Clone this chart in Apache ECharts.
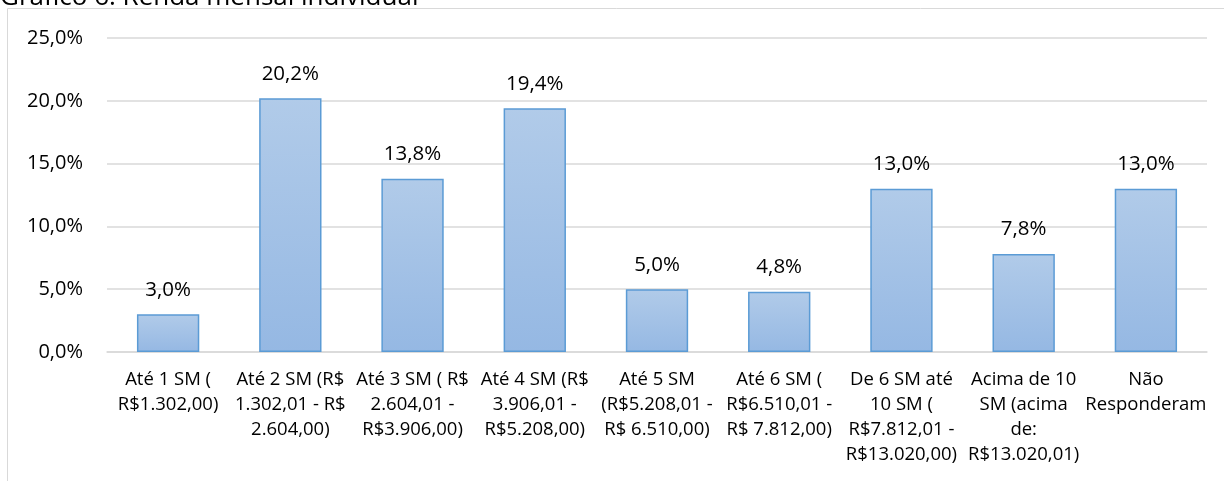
<!DOCTYPE html>
<html>
<head>
<meta charset="utf-8">
<script src="https://cdn.jsdelivr.net/npm/echarts@6/dist/echarts.min.js"></script>
<style>
html,body{margin:0;padding:0;background:#fff;}
#chart{width:1224px;height:481px;}
</style>
</head>
<body>
<div id="chart"></div>
<script>
// categorias (faixas de renda) e percentuais
var categorias = [
	'Até 1 SM (\nR$1.302,00)',
	'Até 2 SM (R$\n1.302,01 - R$\n2.604,00)',
	'Até 3 SM ( R$\n2.604,01 -\nR$3.906,00)',
	'Até 4 SM (R$\n3.906,01 -\nR$5.208,00)',
	'Até 5 SM\n(R$5.208,01 -\nR$ 6.510,00)',
	'Até 6 SM (\nR$6.510,01 -\nR$ 7.812,00)',
	'De 6 SM até\n10 SM (\nR$7.812,01 -\nR$13.020,00)',
	'Acima de 10\nSM (acima\nde:\nR$13.020,01)',
	'Não\nResponderam'
];
var percentuais = [3.0, 20.2, 13.8, 19.4, 5.0, 4.8, 13.0, 7.8, 13.0];
var titulo = 'Gráfico 6: Renda mensal individual';

function fmt(v){
	return v.toFixed(1).replace('.', ',') + '%';
}

var chart = echarts.init(document.getElementById('chart'));
var option = {
	animation:false,
	textStyle:{fontFamily:'Open Sans'},
	graphic:[
		{
			type:'rect',
			shape:{x:7.5, y:8.5, width:1300, height:600},
			style:{fill:'none', stroke:'#d9d9d9', lineWidth:1}
		},
		{
			type:'text',
			x:0,
			y:-2,
			style:{text:titulo, font:'26px "Open Sans"', fill:'#000', verticalAlign:'middle'}
		}
	],
	grid:{left:107, right:17, top:38, bottom:129},
	xAxis:{
		type:'category',
		data:categorias,
		axisTick:{show:false},
		axisLine:{lineStyle:{color:'#d9d9d9', width:1.5}},
		axisLabel:{
			interval:0,
			color:'#000',
			fontSize:18.5,
			lineHeight:25,
			margin:15
		}
	},
	yAxis:{
		type:'value',
		min:0,
		max:25,
		interval:5,
		axisLabel:{
			color:'#000',
			fontSize:20,
			margin:24,
			formatter:function(v){ return fmt(v); }
		},
		splitLine:{lineStyle:{color:'#d9d9d9', width:1.5}}
	},
	series:[{
		type:'bar',
		data:percentuais,
		barWidth:'51%',
		itemStyle:{
			color:new echarts.graphic.LinearGradient(0,0,0,1,[
				{offset:0, color:'#b1cbe9'},
				{offset:1, color:'#95b8e3'}
			]),
			borderColor:'#5b9bd5',
			borderWidth:1.5
		},
		label:{
			show:true,
			position:'top',
			distance:14,
			color:'#000',
			fontSize:20.5,
			formatter:function(p){ return fmt(p.value); }
		}
	}]
};
chart.setOption(option);
</script>
</body>
</html>
